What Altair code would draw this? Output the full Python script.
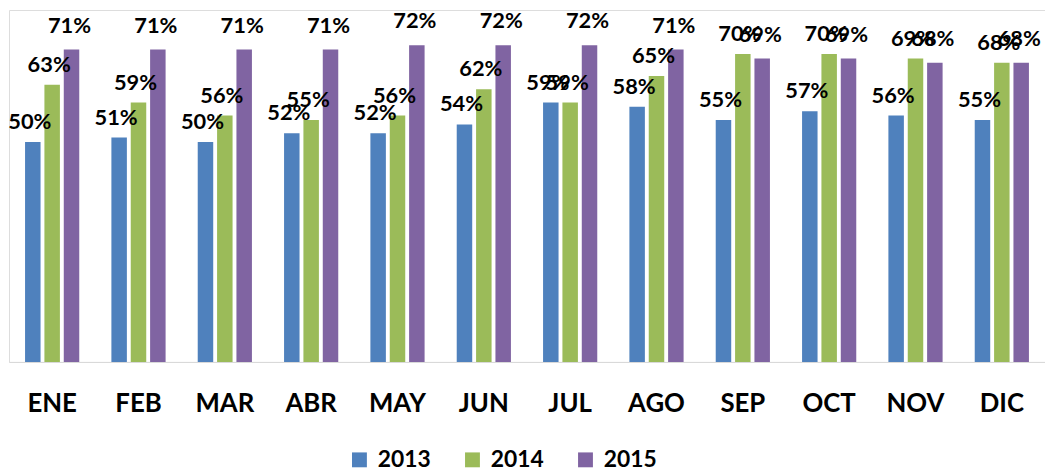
import altair as alt
import pandas as pd

months = ["ENE", "FEB", "MAR", "ABR", "MAY", "JUN", "JUL", "AGO", "SEP", "OCT", "NOV", "DIC"]
years = ["2013", "2014", "2015"]
v2013 = [50, 51, 50, 52, 52, 54, 59, 58, 55, 57, 56, 55]
v2014 = [63, 59, 56, 55, 56, 62, 59, 65, 70, 70, 69, 68]
v2015 = [71, 71, 71, 71, 72, 72, 72, 71, 69, 69, 68, 68]
colors = ["#4F81BD", "#9BBB59", "#8064A2"]

rows = []
for yr, vals in zip(years, [v2013, v2014, v2015]):
    for m, v in zip(months, vals):
        rows.append({"mes": m, "anio": yr, "valor": v, "etiqueta": f"{v}%"})
df = pd.DataFrame(rows)

FONT = "Lato"

x = alt.X("mes:N", sort=months, title=None,
          scale=alt.Scale(paddingInner=0, paddingOuter=0),
          axis=alt.Axis(labelAngle=0, labelFont=FONT, labelFontSize=26,
                        labelFontWeight="bold", labelColor="#000000",
                        ticks=False, domainColor="#D9D9D9", domainWidth=1,
                        labelPadding=29))
xo = alt.XOffset("anio:N", sort=years,
                 scale=alt.Scale(paddingInner=0.2, paddingOuter=0.83))
y = alt.Y("valor:Q", scale=alt.Scale(domain=[0, 80]), axis=None)

base = alt.Chart(df)

bars = base.mark_bar().encode(
    x=x, xOffset=xo, y=y,
    color=alt.Color("anio:N", sort=years,
                    scale=alt.Scale(domain=years, range=colors),
                    legend=alt.Legend(title=None, orient="none", direction="horizontal",
                                      legendX=342, legendY=442,
                                      symbolType="square", symbolSize=225,
                                      symbolStrokeWidth=0,
                                      labelFont=FONT, labelFontSize=23,
                                      labelFontWeight="bold", labelColor="#000000",
                                      labelOffset=7, columnPadding=30, padding=0)),
)

label_offsets = {"2013": (-3, -20), "2014": (-3, -20), "2015": (-2, -24)}
texts = []
for yr in years:
    dx, dy = label_offsets[yr]
    texts.append(
        base.transform_filter(alt.datum.anio == yr).mark_text(
            font=FONT, fontSize=22, fontWeight="bold", color="#000000",
            baseline="middle", dx=dx, dy=dy
        ).encode(x=x, xOffset=xo, y=y, text="etiqueta:N")
    )

chart = alt.layer(bars, *texts).properties(
    width=1045, height=355,
    padding={"left": 0, "right": 0, "top": 0, "bottom": 0},
).configure_view(stroke=None).configure(background="#FFFFFF")

chart.save("out.html", embed_options={"renderer": "svg", "actions": False})
